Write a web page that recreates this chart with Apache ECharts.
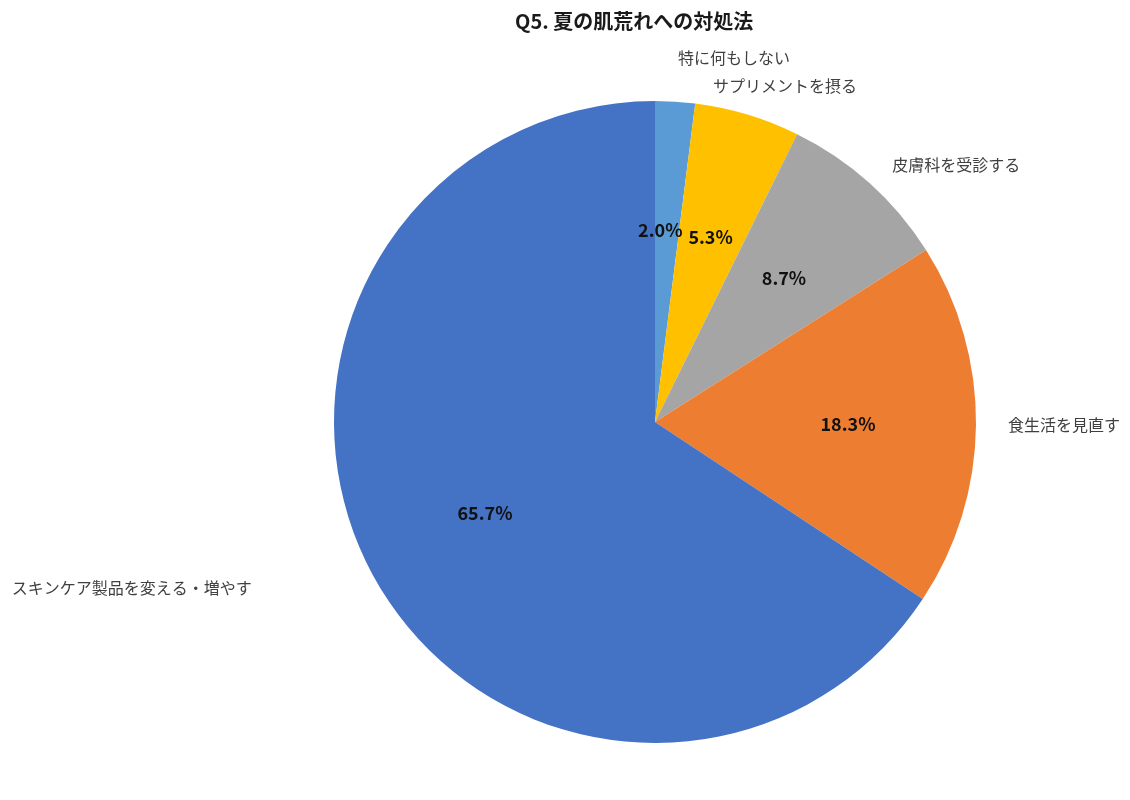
<!DOCTYPE html>
<html>
<head>
<meta charset="utf-8">
<script src="https://cdn.jsdelivr.net/npm/echarts@6/dist/echarts.min.js"></script>
<style>
html,body{margin:0;padding:0;background:#fff;}
#c{width:1130px;height:800px;}
</style>
</head>
<body>
<div id="c"></div>
<script>
const titleText = 'Q5. 夏の肌荒れへの対処法';
const categories = ['特に何もしない', 'サプリメントを摂る', '皮膚科を受診する', '食生活を見直す', 'スキンケア製品を変える・増やす'];
const values = [2.0, 5.3, 8.7, 18.3, 65.7];
const colors = ['#5B9BD5', '#FFC000', '#A5A5A5', '#ED7D31', '#4472C4'];
// label offsets (style only): [radial length, horizontal length]
const labelOffsets = [[44, 0], [30, -43], [25, 6], [30, 2], [30, 94]];
// the smallest slice's value label is placed by offset (it does not fit inside its sector)
const smallLabelOffset = [-128.7, -29];

const FONT = '"Noto Sans CJK JP", "Noto Sans", sans-serif';
const center = [655, 422];
const R = 321;

const chart = echarts.init(document.getElementById('c'), null, {renderer: 'canvas'});

const outerData = categories.map((name, i) => ({
  name: name,
  value: values[i],
  labelLine: {show: false, length: labelOffsets[i][0], length2: labelOffsets[i][1]}
}));
const innerData = categories.map((name, i) => {
  const item = {name: name, value: values[i]};
  if (i === 0) {
    item.label = {position: 'outer', distanceToLabelLine: 0};
    item.labelLine = {show: false, length: smallLabelOffset[0], length2: smallLabelOffset[1]};
  }
  return item;
});

chart.setOption({
  animation: false,
  backgroundColor: '#ffffff',
  title: {
    text: titleText,
    left: 510,
    top: 6,
    textStyle: {fontFamily: FONT, fontSize: 20, fontWeight: 'bold', color: '#1a1a1a'}
  },
  color: colors,
  series: [
    {
      type: 'pie',
      center: center,
      radius: [0, R],
      startAngle: 90,
      clockwise: true,
      avoidLabelOverlap: false,
      silent: true,
      data: outerData,
      itemStyle: {borderWidth: 0},
      label: {
        show: true,
        position: 'outer',
        distanceToLabelLine: 0,
        formatter: '{b}',
        fontFamily: FONT,
        fontSize: 16,
        color: '#404040'
      },
      labelLine: {show: false},
      emphasis: {disabled: true}
    },
    {
      type: 'pie',
      center: center,
      radius: [59, R],
      startAngle: 90,
      clockwise: true,
      avoidLabelOverlap: false,
      minShowLabelAngle: 0,
      silent: true,
      data: innerData,
      itemStyle: {color: 'rgba(0,0,0,0)', borderWidth: 0},
      label: {
        show: true,
        position: 'inside',
        formatter: (p) => p.value.toFixed(1) + '%',
        fontFamily: FONT,
        fontSize: 18,
        fontWeight: 'bold',
        color: '#111111'
      },
      labelLine: {show: false},
      emphasis: {disabled: true}
    }
  ]
});
</script>
</body>
</html>
